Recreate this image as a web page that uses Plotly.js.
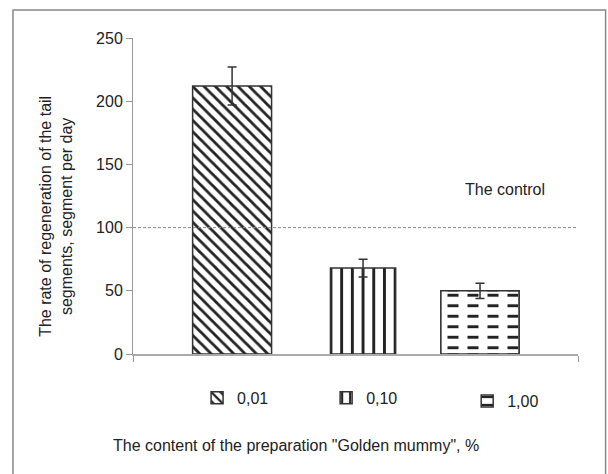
<!DOCTYPE html>
<html>
<head>
<meta charset="utf-8">
<script src="https://cdn.plot.ly/plotly-3.0.1.min.js"></script>
<style>html,body{margin:0;padding:0;background:#fff;}#chart{width:608px;height:474px;}</style>
</head>
<body>
<div id="chart"></div>
<script>
// ---- data ----
var categories = ["0,01", "0,10", "1,00"];
var values = [212, 68, 50];
var errors = [15, 7, 6];
var controlValue = 100;
var yTicks = [0, 50, 100, 150, 200, 250];
var yTitle = "The rate of regeneration of the tail<br>segments, segment per day";
var xTitle = 'The content of the preparation "Golden mummy", %';
var controlLabel = "The control";

// ---- styles ----
var FONT = "Liberation Sans, Arial, sans-serif";
var TXT = "#222";
var OUT = "#333";
var widths = [0.637, 0.526, 0.631];
var offsets = [-0.319, -0.207, -0.316];
var patterns = [
  {shape: "\\", size: 8, solidity: 0.35, fgcolor: "#222", bgcolor: "#fff"},
  {shape: "|", size: 10.7, solidity: 0.27, fgcolor: "#222", bgcolor: "#fff"},
  {shape: "-", size: 10.5, solidity: 0.28, fgcolor: "#222", bgcolor: "#fff"}
];
var legendPos = [{x: 0.144, y: -0.139}, {x: 0.434, y: -0.139}, {x: 0.751, y: -0.149}];

var traces = [];
for (var i = 0; i < categories.length; i++) {
  var t = {
    type: "bar",
    x: [categories[i]],
    y: [values[i]],
    name: categories[i],
    width: [widths[i]],
    offset: [offsets[i]],
    marker: {color: "#fff", line: {color: OUT, width: 1.5}, pattern: patterns[i]},
    legend: i === 0 ? "legend" : "legend" + (i + 1),
    hoverinfo: "skip"
  };
  if (i < 2) {
    t.error_y = {type: "data", array: [errors[i]], visible: true, color: OUT, thickness: 1.5, width: 4.5};
  }
  traces.push(t);
}
// break the horizontal lines of the third pattern into dashes
traces.push({
  type: "bar",
  x: [categories[2]],
  y: [values[2]],
  width: [widths[2]],
  offset: [offsets[2]],
  showlegend: false,
  hoverinfo: "skip",
  marker: {color: "rgba(0,0,0,0)", line: {color: OUT, width: 1.5},
    pattern: {shape: "|", size: 20, solidity: 0.45, fgcolor: "#fff", bgcolor: "rgba(0,0,0,0)"}},
  error_y: {type: "data", array: [errors[2]], visible: true, color: OUT, thickness: 1.5, width: 4.5}
});

function legendCfg(p) {
  return {x: p.x, y: p.y, xanchor: "left", yanchor: "middle", orientation: "h",
    bgcolor: "rgba(0,0,0,0)", borderwidth: 0, itemwidth: 30,
    font: {family: FONT, size: 16, color: TXT}};
}

var layout = {
  width: 608, height: 474,
  margin: {l: 133, r: 30, t: 38, b: 120},
  paper_bgcolor: "#fff", plot_bgcolor: "#fff",
  barmode: "overlay",
  showlegend: true,
  legend: legendCfg(legendPos[0]),
  legend2: legendCfg(legendPos[1]),
  legend3: legendCfg(legendPos[2]),
  font: {family: FONT, size: 16, color: TXT},
  xaxis: {
    type: "category", range: [-0.8, 2.79], showgrid: false, zeroline: false,
    showline: true, linecolor: "#aaa", linewidth: 1.5,
    ticks: "outside", ticklen: 6, tickcolor: "#999", tickvals: [-0.8, 2.79],
    showticklabels: false, fixedrange: true
  },
  yaxis: {
    range: [0, 250], tickvals: yTicks, showgrid: false, zeroline: false,
    showline: true, linecolor: "#999", linewidth: 1,
    ticks: "outside", ticklen: 6, tickcolor: "#999",
    tickfont: {family: FONT, size: 16, color: TXT}, fixedrange: true
  },
  shapes: [
    {type: "line", xref: "paper", yref: "y", x0: 0, x1: 1, y0: controlValue, y1: controlValue,
      line: {color: "#888", width: 1, dash: "3px,2px"}},
    {type: "rect", xref: "paper", yref: "paper", x0: -0.2697, x1: 1.062, y0: -0.42, y1: 1.0886,
      line: {color: "#888", width: 1.5}, fillcolor: "rgba(0,0,0,0)"}
  ],
  annotations: [
    {text: controlLabel, xref: "paper", yref: "y", x: 0.836, y: 130, xanchor: "center", yanchor: "middle",
      showarrow: false, font: {family: FONT, size: 16, color: TXT}},
    {text: xTitle, xref: "paper", yref: "paper", x: -0.05, y: -0.29, xanchor: "left",
      yanchor: "middle", showarrow: false, font: {family: FONT, size: 16, color: TXT}},
    {text: yTitle, xref: "paper", yref: "paper", x: -0.173, y: 0.434, xanchor: "center", yanchor: "middle",
      textangle: -90, showarrow: false, font: {family: FONT, size: 16, color: TXT}}
  ]
};

Plotly.newPlot("chart", traces, layout, {displayModeBar: false, staticPlot: true});
</script>
</body>
</html>
